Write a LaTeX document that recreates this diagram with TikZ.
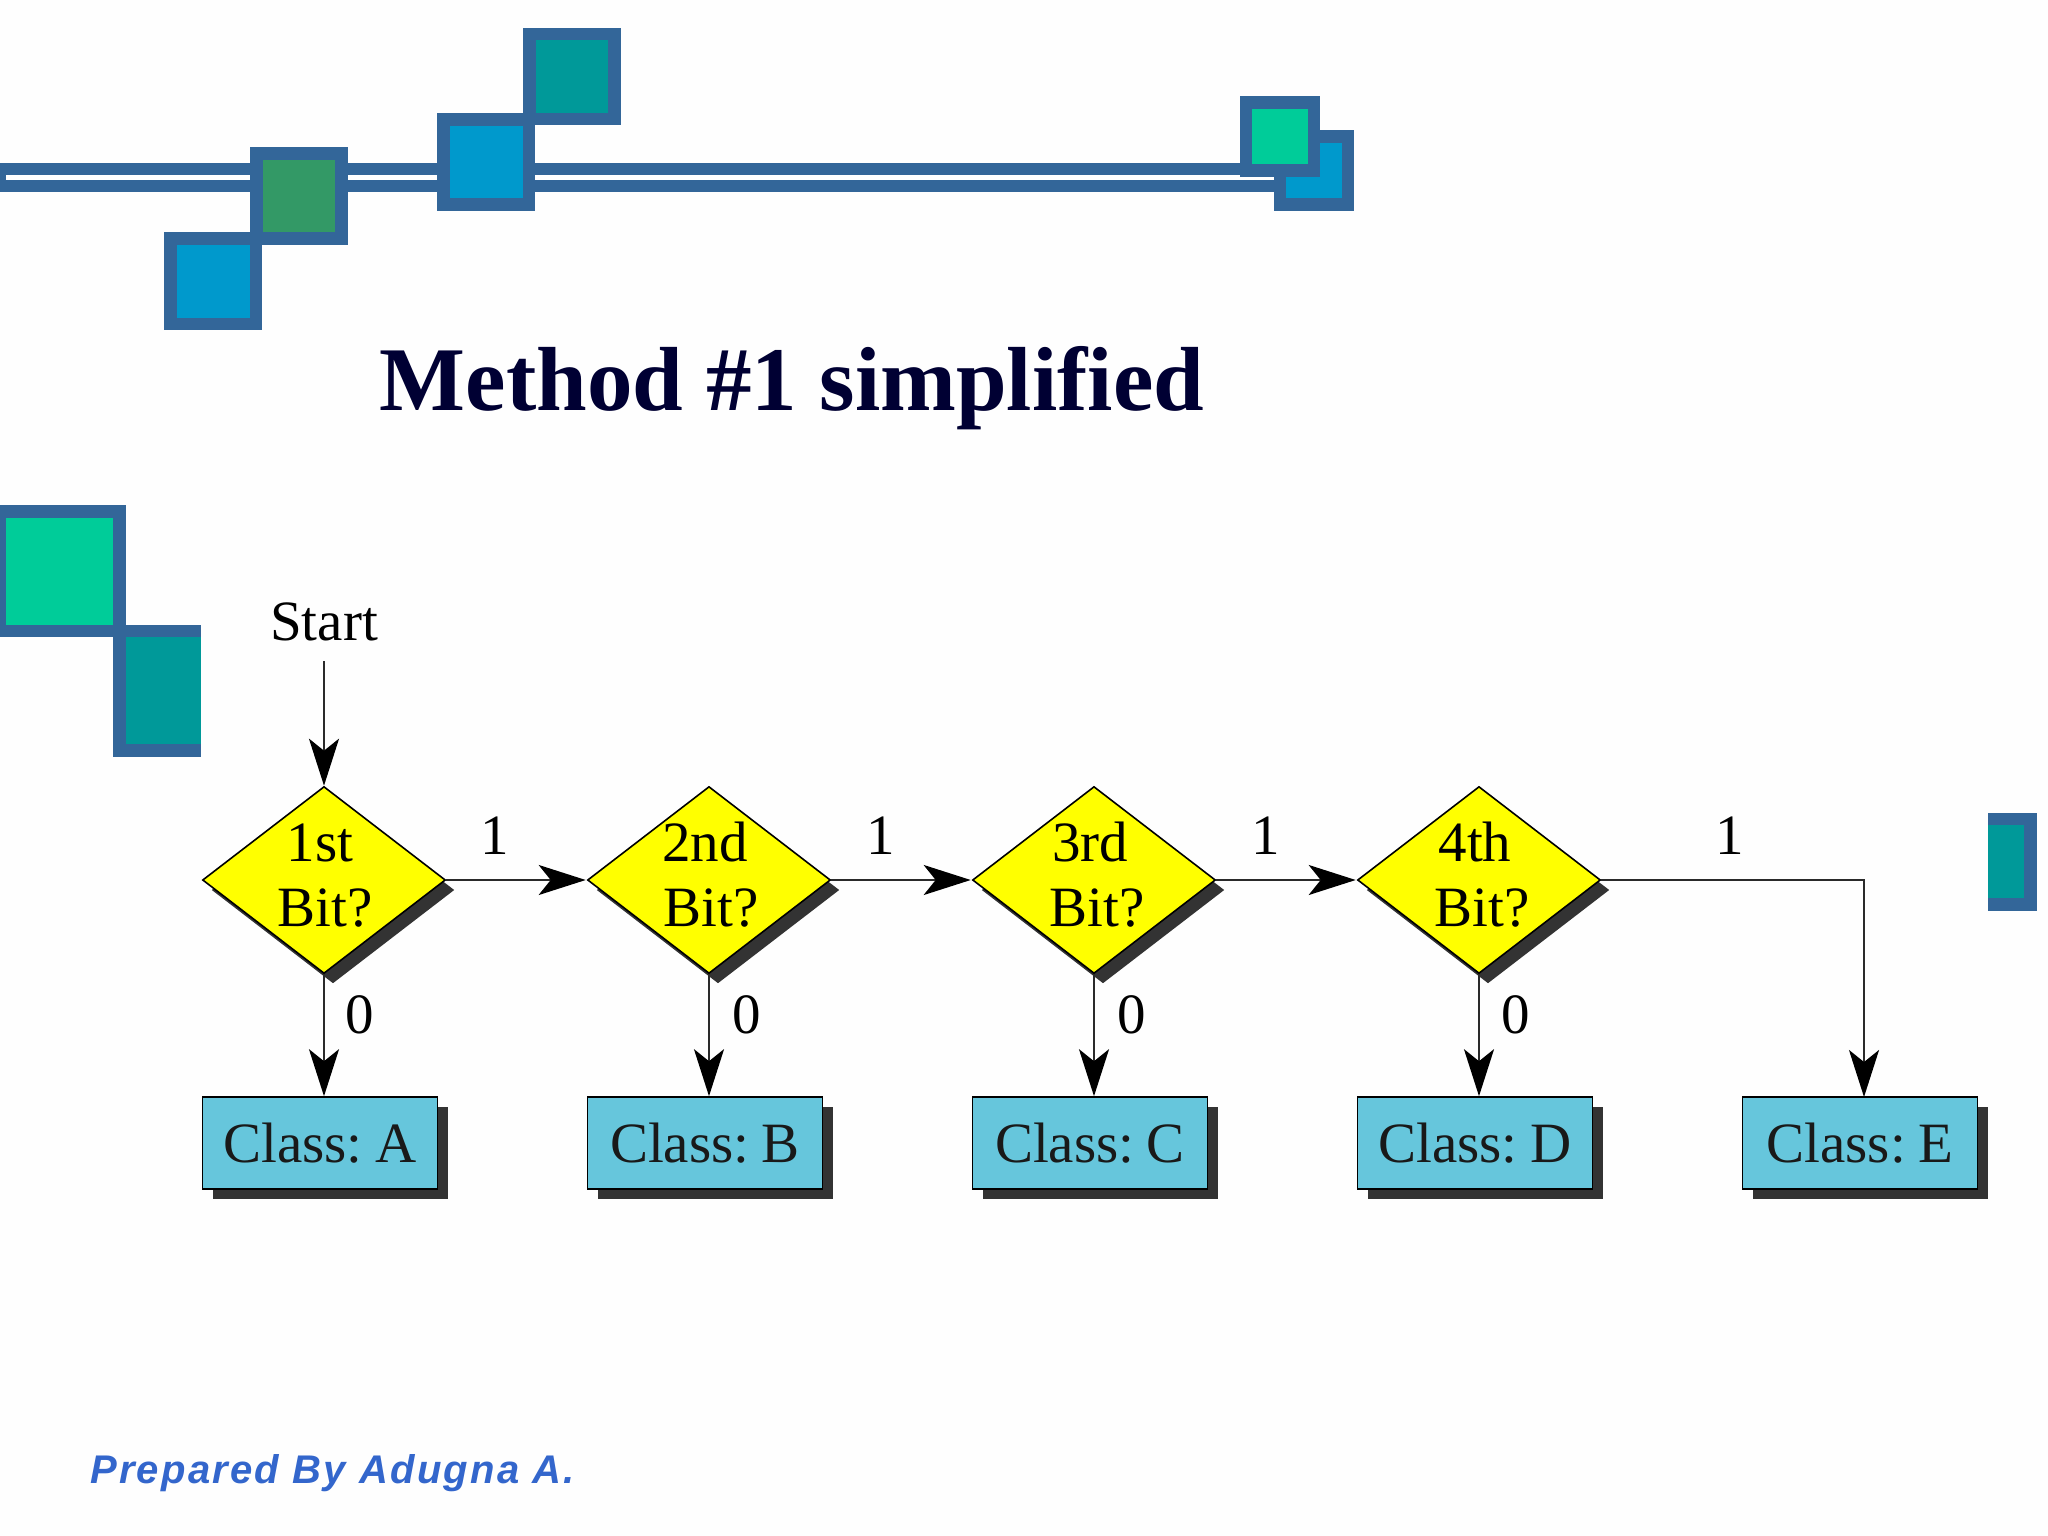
\documentclass[tikz,border=0pt]{standalone}
\usepackage{fontspec}
\setmainfont{Liberation Serif}
\newfontfamily\boxfont[WordSpace=0.55]{Liberation Serif}
\newfontfamily\footfont[LetterSpace=5.6]{Liberation Sans}
\usetikzlibrary{shapes.geometric,arrows.meta,shadows}
\definecolor{frameblue}{HTML}{336699}
\definecolor{skyblue}{HTML}{0099CC}
\definecolor{leafgreen}{HTML}{339966}
\definecolor{tealc}{HTML}{009999}
\definecolor{mintc}{HTML}{00CC99}
\definecolor{shadowc}{HTML}{333333}
\definecolor{boxc}{HTML}{66C6DC}
\definecolor{titlec}{HTML}{000033}
\definecolor{footc}{HTML}{3366CC}
\definecolor{linec}{HTML}{2A2A2A}
\definecolor{diamc}{RGB}{255,255,0}
\tikzset{
  diam/.style={diamond,draw=black,line width=1.6pt,fill=diamc,inner sep=0pt,minimum width=243pt,minimum height=187pt,
    drop shadow={shadow xshift=9pt,shadow yshift=-10pt,opacity=1,fill=shadowc}},
  cbox/.style={rectangle,draw=black,line width=1.6pt,fill=boxc,inner sep=0pt,minimum width=235pt,minimum height=92pt,
    text height=38pt,text depth=0pt,font=\fontsize{57}{60}\boxfont,text=black!90,
    drop shadow={shadow xshift=10pt,shadow yshift=-10pt,opacity=1,fill=shadowc}},
  lab/.style={anchor=base,inner sep=0pt,font=\fontsize{57}{60}\selectfont,text=black},
  conn/.style={draw=linec,line width=2.6pt,-{Stealth[length=47pt,width=30pt,inset=12pt,color=black]}},
  hconn/.style={conn,shorten >=1pt},
}
\begin{document}
\begin{tikzpicture}[x=1pt,y=-1pt]
\fill[white!99.5!black] (0,0) rectangle (2048,1536);
\useasboundingbox (0,0) rectangle (2048,1536);
% double rule
\fill[frameblue] (0,163) rectangle (1300,192);
\fill[white] (6,175) rectangle (1274,180);
% decorative squares
\fill[frameblue] (164,232) rectangle (262,330);
\fill[skyblue] (177,245) rectangle (250,318);
\fill[frameblue] (250,147) rectangle (348,245);
\fill[leafgreen] (263,160) rectangle (335,232);
\fill[frameblue] (437,113) rectangle (535,211);
\fill[skyblue] (450,126) rectangle (523,198);
\fill[frameblue] (523,28) rectangle (621,125);
\fill[tealc] (536,40) rectangle (608,113);
\fill[frameblue] (1274,130) rectangle (1354,211);
\fill[skyblue] (1286,143) rectangle (1342,198);
\fill[frameblue] (1240,96) rectangle (1320,177);
\fill[mintc] (1252,109) rectangle (1308,164);
\fill[frameblue] (113,625) rectangle (201,757);
\fill[tealc] (126,637) rectangle (201,744);
\fill[frameblue] (0,505) rectangle (126,637);
\fill[mintc] (6,518) rectangle (113,625);
\fill[frameblue] (1988,813) rectangle (2037,911);
\fill[tealc] (1988,825) rectangle (2024,898);
% title and footer
\node[anchor=base,inner sep=0pt,text=titlec,font=\fontsize{91}{95}\selectfont\bfseries] (title) at (792,410) {Method \#1 simplified};
\node[anchor=base west,inner sep=0pt,text=footc,font=\fontsize{40}{44}\footfont\bfseries\itshape] (foot) at (90,1483) {Prepared By Adugna A.};
% diamonds
\node[diam] (d1) at (324,880) {};
\node[diam] (d2) at (709,880) {};
\node[diam] (d3) at (1094,880) {};
\node[diam] (d4) at (1479,880) {};
% boxes
\node[cbox] (c1) at (320,1143) {Class: A};
\node[cbox] (c2) at (705,1143) {Class: B};
\node[cbox] (c3) at (1090,1143) {Class: C};
\node[cbox] (c4) at (1475,1143) {Class: D};
\node[cbox] (c5) at (1860,1143) {Class: E};
% diamond texts
\node[lab] (t1a) at (320,861) {1st};
\node[lab] (t1b) at (325,926) {Bit?};
\node[lab] (t2a) at (705,861) {2nd};
\node[lab] (t2b) at (711,926) {Bit?};
\node[lab] (t3a) at (1090,861) {3rd};
\node[lab] (t3b) at (1097,926) {Bit?};
\node[lab] (t4a) at (1475,861) {4th};
\node[lab] (t4b) at (1482,926) {Bit?};
% start
\node[lab] (start) at (324,640) {Start};
\coordinate (s0) at (324,661);
\coordinate (bend) at (1864,880);
\coordinate (e5) at (1864,1097);
% connectors
\draw[conn] (s0) -- (d1.north);
\draw[hconn] (d1.east) -- (d2.west);
\draw[hconn] (d2.east) -- (d3.west);
\draw[hconn] (d3.east) -- (d4.west);
\draw[conn] (d1.south) -- (c1.north -| d1.south);
\draw[conn] (d2.south) -- (c2.north -| d2.south);
\draw[conn] (d3.south) -- (c3.north -| d3.south);
\draw[conn] (d4.south) -- (c4.north -| d4.south);
\draw[conn] (d4.east) -- (bend) -- (e5);
% edge labels
\node[lab] (o1) at (495,854) {1};
\node[lab] (o2) at (881,854) {1};
\node[lab] (o3) at (1266,854) {1};
\node[lab] (o4) at (1730,854) {1};
\node[lab] (z1) at (360,1033) {0};
\node[lab] (z2) at (747,1033) {0};
\node[lab] (z3) at (1132,1033) {0};
\node[lab] (z4) at (1516,1033) {0};
\end{tikzpicture}
\end{document}
